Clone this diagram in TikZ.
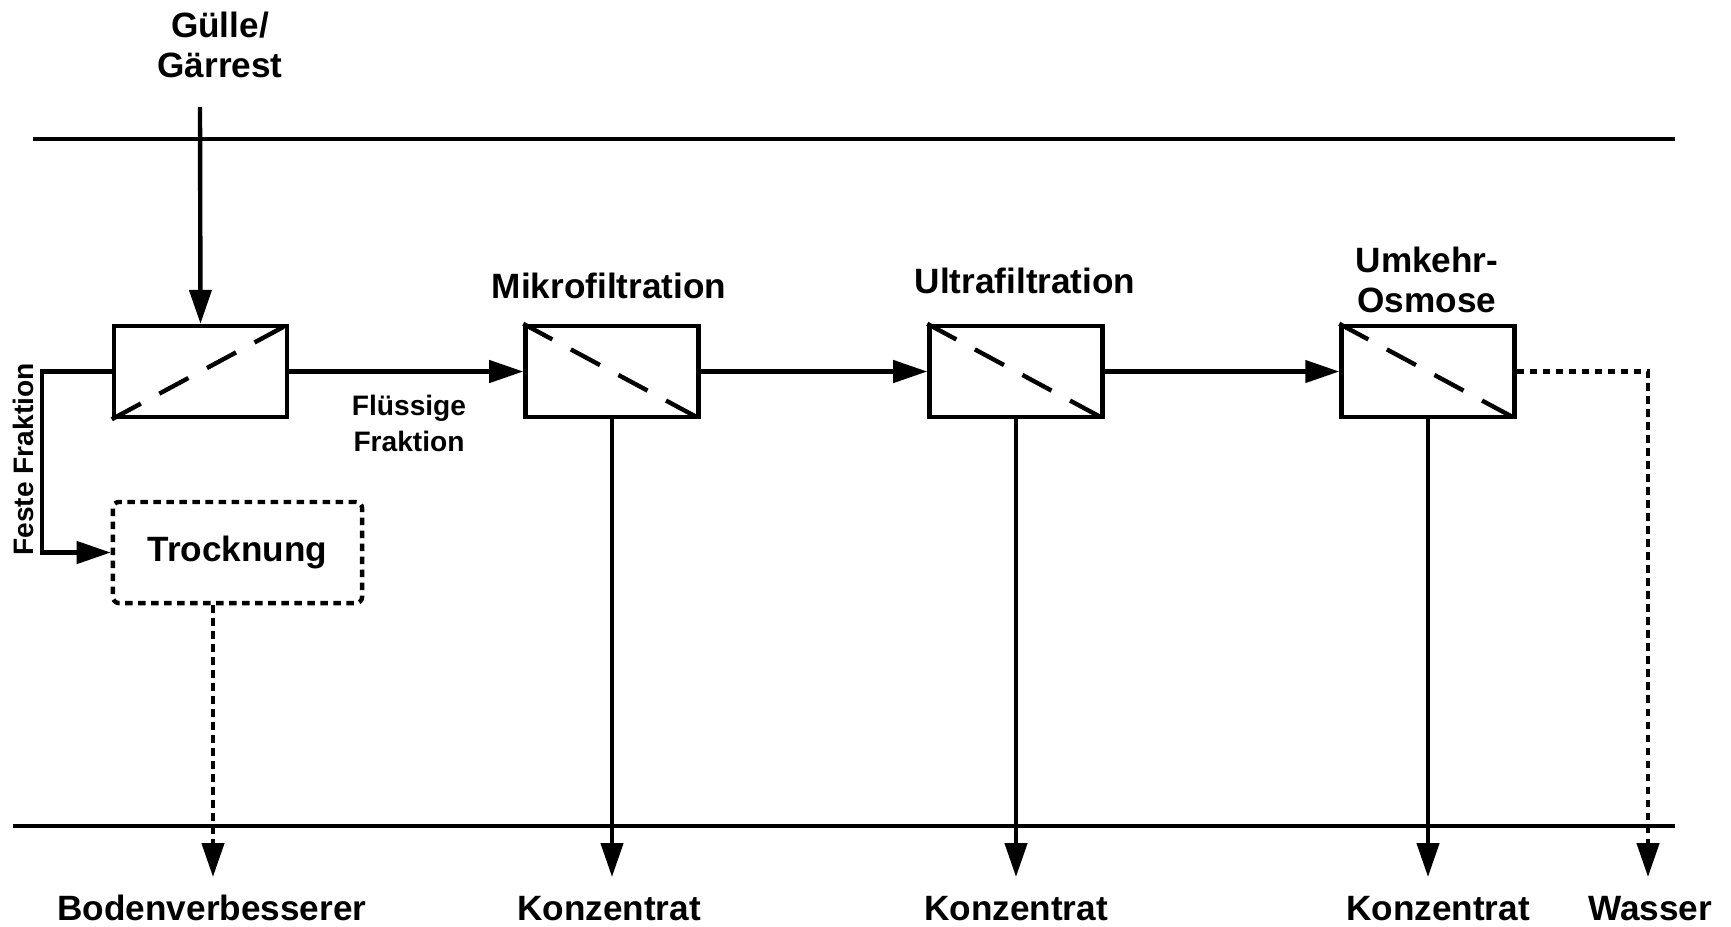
\documentclass[tikz,border=0pt]{standalone}
\usepackage{fontspec}
\setmainfont{Liberation Sans}
\usetikzlibrary{arrows.meta}
\begin{document}
\begin{tikzpicture}[x=0.01cm, y=-0.01cm, line width=1.25pt,
	box/.style = {draw, rectangle, minimum width=1.73cm, minimum height=0.91cm, inner sep=0pt},
	dryer/.style = {draw, rectangle, rounded corners=0.06cm, dash pattern=on 0.075cm off 0.055cm, minimum width=2.49cm, minimum height=1.01cm, inner sep=0pt, font=\fontsize{10}{11.4}\selectfont\bfseries},
	big/.style = {font=\fontsize{10}{11.4}\selectfont\bfseries, align=center, inner sep=0pt},
	small/.style = {font=\fontsize{8}{10.2}\selectfont\bfseries, align=center, inner sep=0pt},
	arr/.style = {-{Triangle[length=0.34cm, width=0.22cm]}},
	memb/.style = {dash pattern=on 0.33cm off 0.21cm},
	dots/.style = {dash pattern=on 0.075cm off 0.055cm}]

			\useasboundingbox (0,0) rectangle (1731,926);

			\node[box] (S) at (200.5,371.5) {};
			\node[box] (M) at (612,371.5) {};
			\node[box] (U) at (1016,371.5) {};
			\node[box] (R) at (1428,371.5) {};
			\node[dryer] (T) at (237.5,552.5) {Trocknung};

			\node[big] (g) at (220,45) {Gülle/\\Gärrest};
			\node[big, anchor=base] (mt) at (609,298) {Mikrofiltration};
			\node[big, anchor=base] (ut) at (1025,293) {Ultrafiltration};
			\node[big] (rt) at (1427,279.5) {Umkehr-\\Osmose};
			\node[small] (fl) at (409,423) {Flüssige\\Fraktion};
			\node[small, anchor=base, rotate=90] (fe) at (33,459.5) {Feste Fraktion};
			\node[big, anchor=base] (b) at (212,920) {Bodenverbesserer};
			\node[big, anchor=base] (k1) at (609,920) {Konzentrat};
			\node[big, anchor=base] (k2) at (1016,920) {Konzentrat};
			\node[big, anchor=base] (k3) at (1438,920) {Konzentrat};
			\node[big, anchor=base] (w) at (1650,920) {Wasser};

			\coordinate (in) at (200,107);
			\coordinate (ab) at (0,877);
			\coordinate (ws) at (1648,877);

			\draw (33,139) -- (1675,139);
			\draw (13,826) -- (1675,826);

			\draw[memb] (S.south west) -- (S.north east);
			\draw[memb] (M.north west) -- (M.south east);
			\draw[memb] (U.north west) -- (U.south east);
			\draw[memb] (R.north west) -- (R.south east);

			\draw[arr] (in) -- (S.north);
			\draw[arr] (S.east) -- (M.west);
			\draw[arr] (M.east) -- (U.west);
			\draw[arr] (U.east) -- (R.west);
			\draw[arr] (S.west) -- ++(-70,0) |- (T.west);
			\draw[arr] (M.south) -- (M.south |- ab);
			\draw[arr] (U.south) -- (U.south |- ab);
			\draw[arr] (R.south) -- (R.south |- ab);
			\draw[arr, dots] ([xshift=-0.245cm]T.south) -- ([xshift=-0.245cm]T.south |- ab);
			\draw[arr, dots] (R.east) -| (ws);
		\end{tikzpicture}
\end{document}
